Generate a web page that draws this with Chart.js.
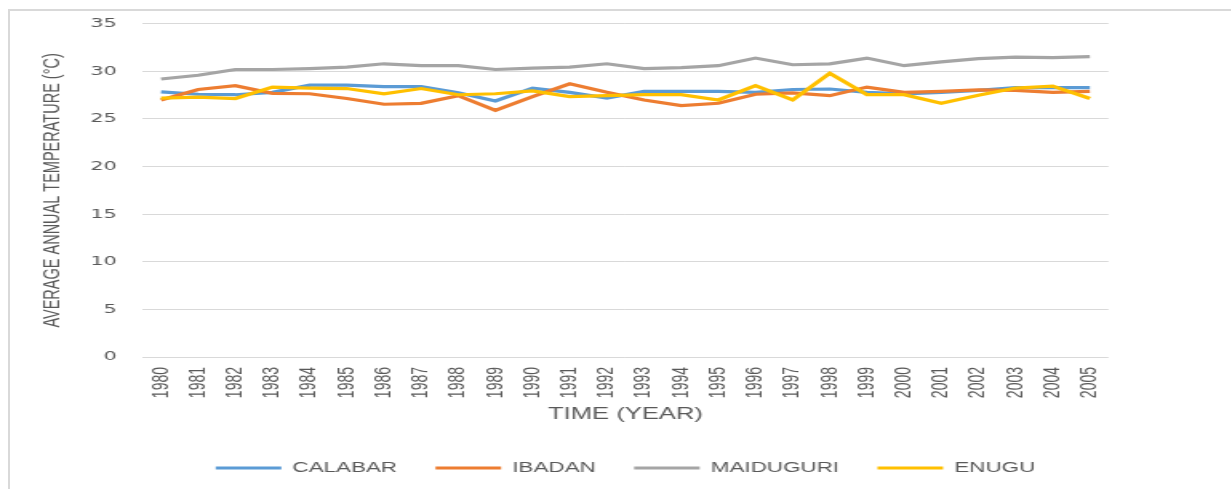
<!DOCTYPE html>
<html>
<head>
<meta charset="utf-8">
<script src="https://cdn.jsdelivr.net/npm/chart.js@4.4.1/dist/chart.umd.min.js"></script>
<style>
  html, body { margin: 0; padding: 0; background: #ffffff; overflow: hidden; width: 1231px; height: 489px; }
  #frame { position: absolute; left: 8px; top: 9px; width: 1400px; height: 600px; border-left: 2px solid #d9d9d9; border-top: 2px solid #d9d9d9; }
  #wrap { position: absolute; left: 0; top: 0; width: 770px; height: 489px; transform: scaleX(1.6); transform-origin: 0 0; }
</style>
</head>
<body>
<div id="frame"></div>
<div id="wrap"><canvas id="c" width="770" height="489"></canvas></div>
<script>
const years = ['1980','1981','1982','1983','1984','1985','1986','1987','1988','1989','1990','1991','1992','1993','1994','1995','1996','1997','1998','1999','2000','2001','2002','2003','2004','2005'];
const calabar   = [27.85, 27.6, 27.55, 27.8, 28.55, 28.55, 28.4, 28.4, 27.75, 26.9, 28.25, 27.8, 27.2, 27.9, 27.9, 27.9, 27.8, 28.1, 28.15, 27.8, 27.65, 27.8, 28.0, 28.3, 28.3, 28.3];
const ibadan    = [27.0, 28.1, 28.5, 27.7, 27.65, 27.15, 26.55, 26.65, 27.45, 25.9, 27.35, 28.7, 27.8, 27.0, 26.4, 26.65, 27.6, 27.75, 27.45, 28.35, 27.8, 27.9, 28.05, 28.0, 27.8, 27.9];
const maiduguri = [29.2, 29.6, 30.2, 30.2, 30.3, 30.45, 30.8, 30.6, 30.6, 30.2, 30.35, 30.45, 30.8, 30.3, 30.4, 30.6, 31.4, 30.7, 30.8, 31.4, 30.6, 31.0, 31.35, 31.5, 31.45, 31.55];
const enugu     = [27.2, 27.3, 27.15, 28.35, 28.25, 28.2, 27.65, 28.2, 27.55, 27.65, 27.95, 27.35, 27.45, 27.55, 27.55, 27.0, 28.5, 27.0, 29.8, 27.55, 27.55, 26.65, 27.5, 28.25, 28.45, 27.15];
const seriesNames = ['CALABAR', 'IBADAN', 'MAIDUGURI', 'ENUGU'];
const seriesColors = ['#5B9BD5', '#ED7D31', '#A5A5A5', '#FFC000'];
const yTicks = { min: 0, max: 35, step: 5 };
const yTitle = 'AVERAGE ANNUAL TEMPERATURE (°C)';
const xTitle = 'TIME (YEAR)';

const seriesData = [calabar, ibadan, maiduguri, enugu];
const txt = '#595959';

const datasets = seriesNames.map((name, i) => ({
  label: name,
  data: seriesData[i],
  borderColor: seriesColors[i],
  backgroundColor: seriesColors[i],
  borderWidth: 3.2,
  pointRadius: 0,
  tension: 0,
  fill: false,
  order: seriesNames.length - i
}));

new Chart(document.getElementById('c'), {
  type: 'line',
  data: { labels: years, datasets },
  options: {
    responsive: false,
    animation: false,
    events: [],
    layout: { padding: { top: 18, right: 77.2, bottom: 4, left: 0 } },
    plugins: {
      tooltip: { enabled: false },
      legend: {
        position: 'bottom',
        fullSize: false,
        labels: {
          color: txt,
          font: { family: 'Liberation Sans', size: 14 },
          boxWidth: 41,
          boxHeight: 3,
          padding: 24,
          generateLabels: (chart) => chart.data.datasets.map((d, i) => ({
            text: d.label,
            fillStyle: d.borderColor,
            strokeStyle: d.borderColor,
            lineWidth: 0,
            fontColor: txt,
            hidden: false,
            datasetIndex: i
          }))
        }
      }
    },
    scales: {
      x: {
        offset: true,
        grid: { display: false, drawTicks: false },
        border: { display: false },
        afterFit: (s) => { s.height = 80; },
        ticks: {
          autoSkip: false, minRotation: 90, maxRotation: 90, padding: 10,
          color: txt, font: { family: 'Liberation Sans', size: 14 }
        },
        title: {
          display: true, text: xTitle, color: txt,
          font: { family: 'Liberation Sans', size: 16 },
          padding: { top: 4, bottom: 12.4 }
        }
      },
      y: {
        min: yTicks.min, max: yTicks.max,
        afterFit: (s) => { s.width = 89.06; },
        grid: { color: '#d9d9d9', lineWidth: 1, drawTicks: false },
        border: { display: false },
        ticks: {
          stepSize: yTicks.step, padding: 16,
          color: txt, font: { family: 'DejaVu Sans', size: 13 }
        },
        title: {
          display: true, text: yTitle, color: txt,
          font: { family: 'Liberation Sans', size: 14.5 },
          padding: { top: 24.5, bottom: 0 }
        }
      }
    }
  }
});
</script>
</body>
</html>
